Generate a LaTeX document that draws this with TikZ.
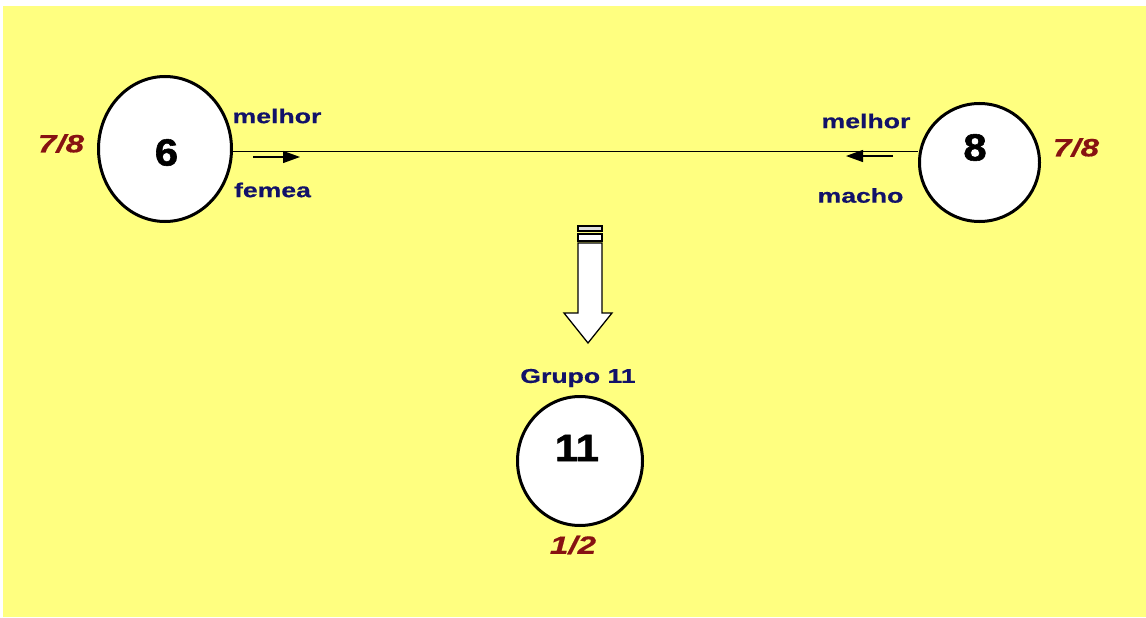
\documentclass[tikz,border=0pt]{standalone}
\usepackage{fontspec}
\setmainfont{Liberation Sans}[FakeStretch=1.33,FakeBold=0.6]
\newfontfamily\numfont{Liberation Sans}[FakeStretch=1.1,FakeBold=1.5]
\usepackage{xcolor}
\usetikzlibrary{arrows.meta,shapes.geometric}
\definecolor{bgyellow}{RGB}{255,255,128}
\definecolor{lblblue}{RGB}{18,18,105}
\definecolor{fracred}{RGB}{135,18,18}
\begin{document}
\begin{tikzpicture}[x=1pt,y=-1pt,
      grp/.style={ellipse,draw=black,fill=white,line width=3pt,inner sep=0pt},
      num/.style={font=\numfont\fontsize{38}{38}\selectfont\bfseries,inner sep=0pt},
      lbl/.style={text=lblblue,font=\fontsize{20}{20}\selectfont\bfseries,inner sep=0pt},
      frac/.style={text=fracred,font=\fontsize{25}{25}\selectfont\bfseries\itshape,inner sep=0pt},
      link/.style={draw=black,line width=0.9pt},
      dir/.style={-{Triangle[length=17pt,width=12pt]},line width=1.3pt}]
    \useasboundingbox (0,0) rectangle (1146,618);
    \fill[bgyellow] (3,6) rectangle (1146,617);
    % the three groups
    \node[grp,minimum width=133pt,minimum height=145pt] (n6) at (165,149) {};
    \node[grp,minimum width=120pt,minimum height=118pt] (n8) at (979.5,162.5) {};
    \node[grp,minimum width=125pt,minimum height=129pt] (n11) at (580,461) {};
    \node[num] (t6) at (166.5,152.5) {6};
    \node[num] (t8) at (975,147.5) {8};
    \node[num] (t11) at (577,448) {11};
    % labels
    \node[lbl] (melhorL) at (277,116) {melhor};
    \node[lbl] (femea) at (272.5,190) {femea};
    \node[lbl] (melhorR) at (866,121) {melhor};
    \node[lbl] (macho) at (860.5,195.5) {macho};
    \node[lbl] (grupo) at (578,378) {Grupo 11};
    \node[frac] (f6) at (61,143.5) {7/8};
    \node[frac] (f8) at (1076,147.5) {7/8};
    \node[frac] (f11) at (573,545) {1/2};
    % crossing
    \draw[link] (n6.east |- 0,151) -- (n8.west |- 0,151);
    \coordinate (fs) at (253,157);
    \coordinate (fe) at (300,157);
    \coordinate (ms) at (893,156);
    \coordinate (me) at (846,156);
    \draw[dir] (fs) -- (fe);
    \draw[dir] (ms) -- (me);
    % block arrow down to the new group
    \draw[line width=1.3pt,fill=gray!25] (578,226) rectangle (602,231);
    \draw[line width=1.3pt,fill=white] (578,234) rectangle (602,241);
    \draw[line width=1.3pt,fill=white,line join=miter]
      (578,243) -- (602,243) -- (602,313) -- (612,313) -- (588,343)
      -- (564,313) -- (578,313) -- cycle;
\end{tikzpicture}
\end{document}
